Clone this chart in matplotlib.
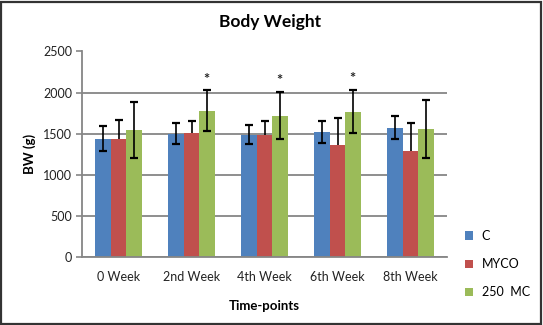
import matplotlib
matplotlib.use("Agg")
import matplotlib.pyplot as plt
from matplotlib.patches import Rectangle
import numpy as np

categories = ["0 Week", "2nd Week", "4th Week", "6th Week", "8th Week"]
series_names = ["C", "MYCO", "250  MC"]
c_values = [1440, 1500, 1490, 1520, 1570]
c_err = [150, 125, 110, 130, 140]
myco_values = [1440, 1510, 1480, 1365, 1290]
myco_err = [225, 145, 180, 320, 345]
mc_values = [1550, 1780, 1720, 1770, 1560]
mc_err = [340, 250, 290, 265, 350]
significant = [False, True, True, True, False]
yticks = [0, 500, 1000, 1500, 2000, 2500]

colors = ["#4F81BD", "#C0504D", "#9BBB59"]
values = [c_values, myco_values, mc_values]
errors = [c_err, myco_err, mc_err]
lower_shown = [True, False, True]

plt.rcParams['font.family'] = ['Lato', 'DejaVu Sans']

W, H = 543, 325
fig = plt.figure(figsize=(W / 100, H / 100), dpi=100)
ax = fig.add_axes([82 / W, 1 - 257 / H, (447 - 82) / W, (257 - 51.5) / H])

x = np.arange(len(categories))
bw = 0.219
for i, (vals, errs, col, low) in enumerate(zip(values, errors, colors, lower_shown)):
    xs = x + (i - 1) * bw
    vals = np.array(vals, float)
    errs = np.array(errs, float)
    ax.bar(xs, vals, width=bw, color=col, label=series_names[i], zorder=2, edgecolor='none')
    lo = errs if low else np.zeros_like(errs)
    ax.errorbar(xs, vals, yerr=[lo, errs], fmt='none', ecolor='black',
                elinewidth=1.2, capsize=0, zorder=3)
    ax.plot(xs, vals + errs, ls='none', marker='_', ms=5.5, mew=1.6, color='black', zorder=3)
    if low:
        ax.plot(xs, vals - errs, ls='none', marker='_', ms=5.5, mew=1.6, color='black', zorder=3)

mc_arr = np.array(mc_values, float) + np.array(mc_err, float)
for xi, top, sig in zip(x + bw, mc_arr, significant):
    if sig:
        ax.text(xi - 0.02, top + 40, "*", ha='center', va='bottom', fontsize=10.5, fontweight='bold',
                color='#222222')

ax.set_xlim(-0.5, len(categories) - 0.5)
ax.set_ylim(0, 2500)
ax.set_yticks(yticks)
ax.set_yticklabels([str(v) for v in yticks], fontsize=9, color='#222222')
ax.set_xticks(x)
ax.set_xticklabels(categories, fontsize=9, color='#222222')
ax.tick_params(axis='x', length=0, pad=10)
ax.tick_params(axis='y', length=4, width=1.2, color='#868686', pad=3)
ax.yaxis.grid(True, color='#868686', linewidth=1.3, zorder=0)
ax.set_axisbelow(True)
for s in ['top', 'right']:
    ax.spines[s].set_visible(False)
for s in ['left', 'bottom']:
    ax.spines[s].set_color('#868686')
    ax.spines[s].set_linewidth(1.3)

ax.set_xlabel("Time-points", fontsize=9.5, fontweight='bold')
ax.xaxis.set_label_coords(0.5, -0.21)
ax.xaxis.label.set_va('top')
ax.set_ylabel("BW (g)", fontsize=9.5, fontweight='bold')
ax.yaxis.set_label_coords(-0.125, 0.5)

fig.text(0.497, 1 - 22 / H, "Body Weight", ha='center', va='center', fontsize=12.5, fontweight='bold')

ax.legend(loc='upper left', bbox_to_anchor=(465 / W, 1 - 230 / H), bbox_transform=fig.transFigure,
          frameon=False, fontsize=9, handlelength=0.65, handleheight=0.65,
          labelspacing=1.3, handletextpad=0.7, borderpad=0, borderaxespad=0)

fig.patches.append(Rectangle((1 / W, 1 / H), (W - 3) / W, (H - 3) / H, transform=fig.transFigure,
                             fill=False, edgecolor='#333333', linewidth=1.6))

fig.savefig("out.png", dpi=100)
